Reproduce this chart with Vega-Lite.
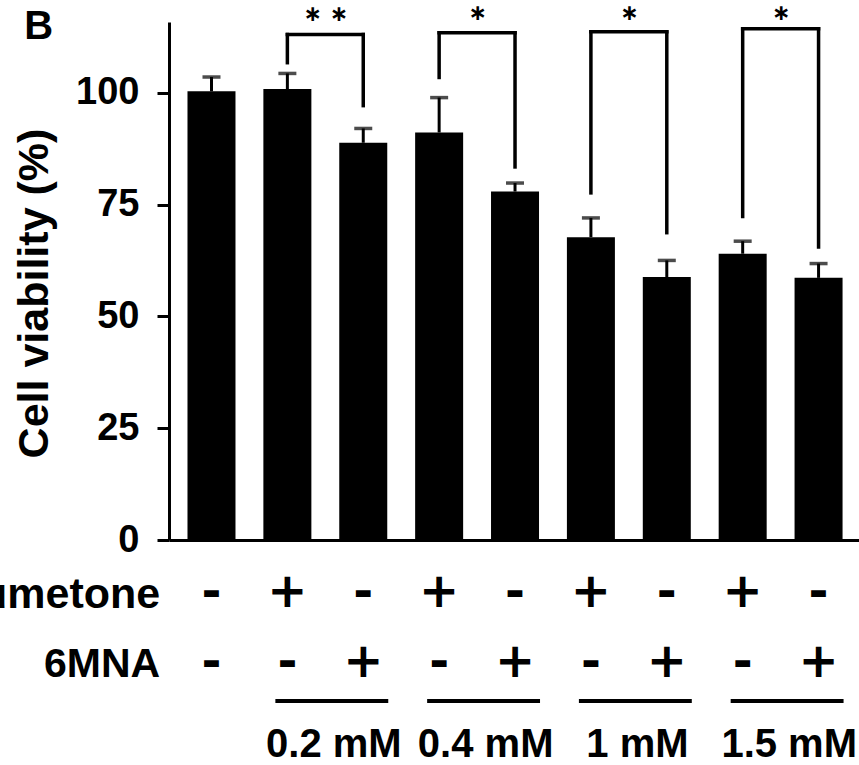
{
  "$schema": "https://vega.github.io/schema/vega-lite/v6.json",
  "width": 690,
  "height": 518,
  "autosize": {"type": "none"},
  "padding": {"left": 169, "top": 22, "right": 0, "bottom": 225},
  "background": "white",
  "config": {"view": {"stroke": null}, "font": "Liberation Sans"},
  "datasets": {
    "bars": [
      {"pos": 1, "nab": "-", "mna": "-", "viability": 100.3, "upper": 103.5},
      {"pos": 2, "nab": "+", "mna": "-", "viability": 100.8, "upper": 104.3},
      {"pos": 3, "nab": "-", "mna": "+", "viability": 88.8, "upper": 92.0},
      {"pos": 4, "nab": "+", "mna": "-", "viability": 91.1, "upper": 98.9},
      {"pos": 5, "nab": "-", "mna": "+", "viability": 77.9, "upper": 79.8},
      {"pos": 6, "nab": "+", "mna": "-", "viability": 67.7, "upper": 72.0},
      {"pos": 7, "nab": "-", "mna": "+", "viability": 58.8, "upper": 62.5},
      {"pos": 8, "nab": "+", "mna": "-", "viability": 64.0, "upper": 66.8},
      {"pos": 9, "nab": "-", "mna": "+", "viability": 58.6, "upper": 61.8}
    ],
    "brackets": [
      {"left": 2, "right": 3, "top": 113.0, "leftEnd": 106.7, "rightEnd": 97.1, "star": "∗ ∗", "starY": 117.6},
      {"left": 4, "right": 5, "top": 113.4, "leftEnd": 103.4, "rightEnd": 83.4, "star": "∗", "starY": 117.8},
      {"left": 6, "right": 7, "top": 113.6, "leftEnd": 77.6, "rightEnd": 68.7, "star": "∗", "starY": 117.8},
      {"left": 8, "right": 9, "top": 114.3, "leftEnd": 72.3, "rightEnd": 65.5, "star": "∗", "starY": 117.9}
    ],
    "doses": [
      {"dose": "0.2 mM", "from": 2, "to": 3},
      {"dose": "0.4 mM", "from": 4, "to": 5},
      {"dose": "1 mM", "from": 6, "to": 7},
      {"dose": "1.5 mM", "from": 8, "to": 9}
    ]
  },
  "layer": [
    {
      "data": {"name": "bars"},
      "mark": {"type": "bar", "width": 48, "color": "black", "orient": "vertical", "clip": false},
      "encoding": {
        "x": {"field": "pos", "type": "quantitative",
              "scale": {"domain": [0.506, 9.467], "nice": false, "zero": false},
              "axis": {"labels": false, "ticks": false, "title": null, "grid": false, "domainWidth": 3, "domainColor": "black"}},
        "y": {"field": "viability", "type": "quantitative",
              "scale": {"domain": [0, 115.8], "nice": false},
              "axis": {"values": [0, 25, 50, 75, 100], "grid": false, "domainWidth": 3, "domainColor": "black",
                       "tickWidth": 3, "tickSize": 12, "tickColor": "black", "labelPadding": 18,
                       "labelFontSize": 38, "labelFontWeight": "bold", "labelColor": "black", "labelFont": "Liberation Sans",
                       "title": "Cell viability (%)", "titleFontSize": 43, "titleFontWeight": "bold", "titleColor": "black",
                       "titleFont": "Liberation Sans", "titleAngle": -90, "titleX": -122, "titleY": 271,
                       "titleAlign": "center", "titleBaseline": "alphabetic"}}
      }
    },
    {
      "data": {"name": "bars"},
      "mark": {"type": "rule", "color": "black", "strokeWidth": 3, "clip": false},
      "encoding": {
        "x": {"field": "pos", "type": "quantitative"},
        "y": {"field": "viability", "type": "quantitative"},
        "y2": {"field": "upper"}
      }
    },
    {
      "data": {"name": "bars"},
      "mark": {"type": "tick", "orient": "horizontal", "size": 18, "thickness": 3.5, "color": "black", "clip": false},
      "encoding": {
        "x": {"field": "pos", "type": "quantitative"},
        "y": {"field": "upper", "type": "quantitative"}
      }
    },
    {
      "data": {"name": "brackets"},
      "mark": {"type": "rule", "color": "black", "strokeWidth": 3.5, "strokeCap": "square", "clip": false},
      "encoding": {
        "x": {"field": "left", "type": "quantitative"},
        "y": {"field": "leftEnd", "type": "quantitative"},
        "y2": {"field": "top"}
      }
    },
    {
      "data": {"name": "brackets"},
      "mark": {"type": "rule", "color": "black", "strokeWidth": 3.5, "strokeCap": "square", "clip": false},
      "encoding": {
        "x": {"field": "right", "type": "quantitative"},
        "y": {"field": "rightEnd", "type": "quantitative"},
        "y2": {"field": "top"}
      }
    },
    {
      "data": {"name": "brackets"},
      "mark": {"type": "rule", "color": "black", "strokeWidth": 3.5, "strokeCap": "square", "clip": false},
      "encoding": {
        "x": {"field": "left", "type": "quantitative"},
        "x2": {"field": "right"},
        "y": {"field": "top", "type": "quantitative"}
      }
    },
    {
      "data": {"name": "brackets"},
      "mark": {"type": "text", "font": "DejaVu Sans", "fontWeight": "bold", "fontSize": 22, "color": "black", "align": "center", "baseline": "middle", "dx": 38.5, "clip": false},
      "encoding": {
        "x": {"field": "left", "type": "quantitative"},
        "y": {"field": "starY", "type": "quantitative"},
        "text": {"field": "star"}
      }
    },
    {
      "data": {"name": "bars"},
      "mark": {"type": "text", "font": "DejaVu Sans", "fontWeight": "bold", "fontSize": 48, "color": "black", "align": "center", "baseline": "middle", "clip": false},
      "encoding": {
        "x": {"field": "pos", "type": "quantitative"},
        "y": {"datum": -11.8},
        "text": {"field": "nab"}
      }
    },
    {
      "data": {"name": "bars"},
      "mark": {"type": "text", "font": "DejaVu Sans", "fontWeight": "bold", "fontSize": 48, "color": "black", "align": "center", "baseline": "middle", "clip": false},
      "encoding": {
        "x": {"field": "pos", "type": "quantitative"},
        "y": {"datum": -27.6},
        "text": {"field": "mna"}
      }
    },
    {
      "data": {"values": [{"label": "Nabumetone"}]},
      "mark": {"type": "text", "font": "Liberation Sans", "fontWeight": "bold", "fontSize": 43, "color": "black", "align": "right", "baseline": "middle", "clip": false},
      "encoding": {
        "x": {"datum": 0.324},
        "y": {"datum": -12.3},
        "text": {"field": "label"}
      }
    },
    {
      "data": {"values": [{"label": "6MNA"}]},
      "mark": {"type": "text", "font": "Liberation Sans", "fontWeight": "bold", "fontSize": 41, "color": "black", "align": "right", "baseline": "middle", "clip": false},
      "encoding": {
        "x": {"datum": 0.324},
        "y": {"datum": -28.0},
        "text": {"field": "label"}
      }
    },
    {
      "data": {"name": "doses"},
      "mark": {"type": "rule", "color": "black", "strokeWidth": 4, "xOffset": -12, "x2Offset": 25, "clip": false},
      "encoding": {
        "x": {"field": "from", "type": "quantitative"},
        "x2": {"field": "to"},
        "y": {"datum": -36.0}
      }
    },
    {
      "data": {"name": "doses"},
      "mark": {"type": "text", "font": "Liberation Sans", "fontWeight": "bold", "fontSize": 40, "color": "black", "align": "center", "baseline": "alphabetic", "dx": 46.5, "clip": false},
      "encoding": {
        "x": {"field": "from", "type": "quantitative"},
        "y": {"datum": -48.5},
        "text": {"field": "dose"}
      }
    },
    {
      "data": {"values": [{"label": "B"}]},
      "mark": {"type": "text", "font": "Liberation Sans", "fontWeight": "bold", "fontSize": 40, "color": "black", "align": "left", "baseline": "alphabetic", "clip": false},
      "encoding": {
        "x": {"datum": -1.468},
        "y": {"datum": 111.9},
        "text": {"field": "label"}
      }
    }
  ]
}
